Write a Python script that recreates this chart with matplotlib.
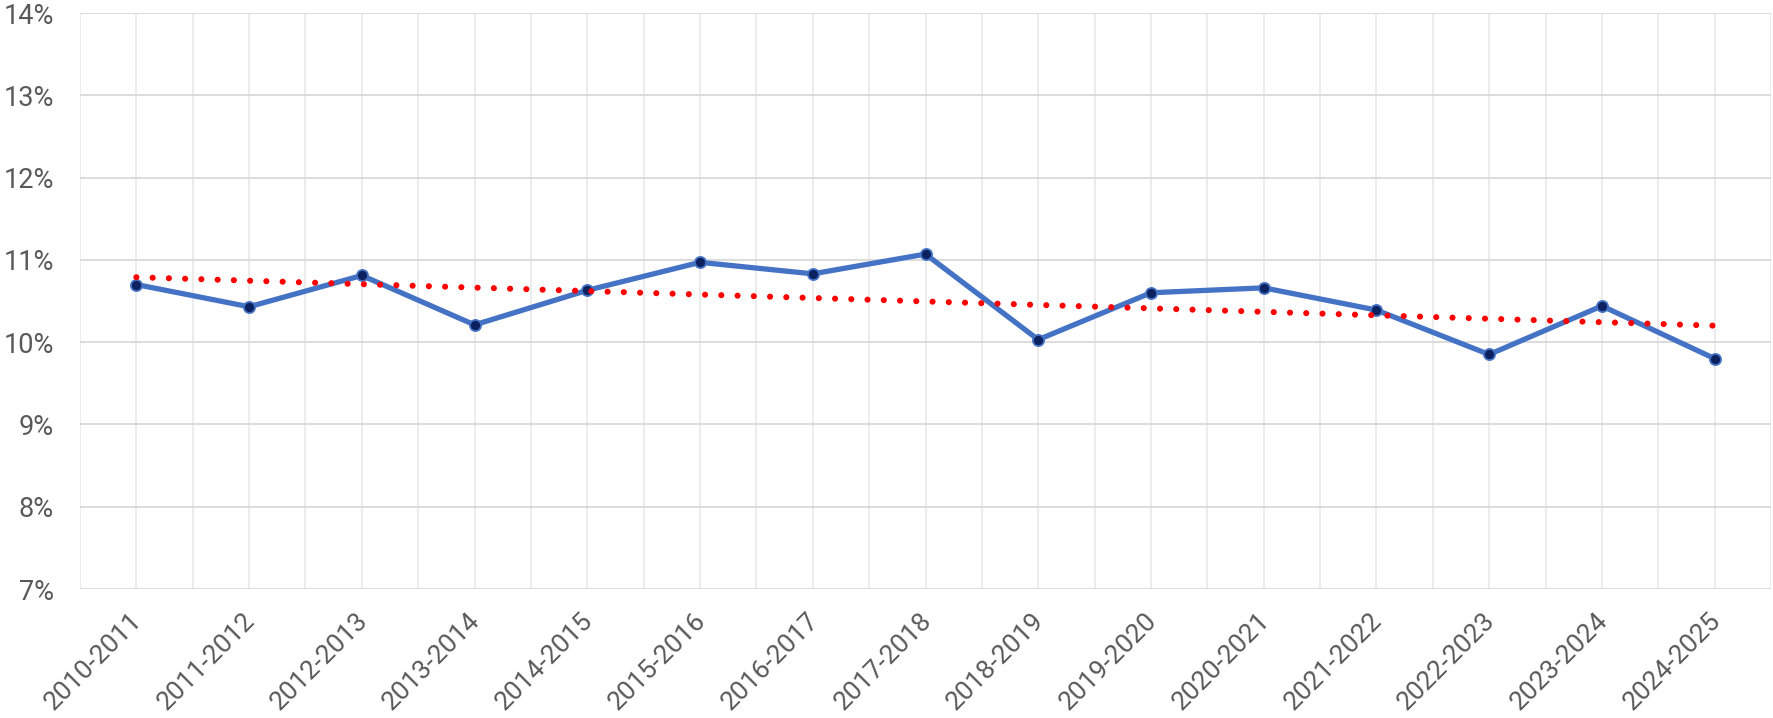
import numpy as np
import matplotlib
matplotlib.use("Agg")
import matplotlib.pyplot as plt
from matplotlib.ticker import FuncFormatter
import matplotlib.transforms as mtransforms

categories = ["2010-2011", "2011-2012", "2012-2013", "2013-2014", "2014-2015",
              "2015-2016", "2016-2017", "2017-2018", "2018-2019", "2019-2020",
              "2020-2021", "2021-2022", "2022-2023", "2023-2024", "2024-2025"]
values = [10.70, 10.43, 10.81, 10.21, 10.63, 10.97, 10.83, 11.07, 10.03, 10.60,
          10.66, 10.39, 9.85, 10.44, 9.80]
y_ticks = [7, 8, 9, 10, 11, 12, 13, 14]

plt.rcParams['font.family'] = ['Roboto', 'DejaVu Sans']

fig = plt.figure(figsize=(17.73, 7.18), dpi=100)
ax = fig.add_axes([80/1773, 129/718, (1771-80)/1773, (589-13)/718])

x = np.arange(len(categories))
ax.plot(x, values, color='#4472C4', lw=3.8, marker='o', ms=8,
        markerfacecolor='#0B2160', markeredgecolor='#4472C4', markeredgewidth=1.3,
        zorder=3, solid_joinstyle='round')

coef = np.polyfit(x, values, 1)
trend = np.polyval(coef, x)
ax.plot(x, trend, color='#FF0000', lw=4.4, linestyle=(0, (0.01, 2.65)),
        dash_capstyle='round', zorder=4)

ax.set_xlim(-0.5, len(categories) - 0.5)
ax.set_ylim(7, 14)
ax.set_yticks(y_ticks)
ax.yaxis.set_major_formatter(FuncFormatter(lambda v, p: f"{v:.0f}%"))
ax.set_xticks(x)
ax.set_xticks(np.arange(-0.5, len(categories), 1.0), minor=True)
ax.set_xticklabels(categories, rotation=45, ha='right', va='center',
                   rotation_mode='anchor')

for s in ax.spines.values():
    s.set_visible(False)

ax.grid(axis='y', color='#D9D9D9', lw=1.3, zorder=0)
ax.grid(axis='x', which='both', color='#EBEBEB', lw=1.3, zorder=0)
ax.tick_params(axis='both', which='both', length=0, labelsize=19, labelcolor='#595959')
ax.tick_params(axis='y', labelsize=19.5, pad=19)
ax.tick_params(axis='x', pad=20)
ax.set_axisbelow(True)

offset = mtransforms.ScaledTranslation(2/100, 0, fig.dpi_scale_trans)
for lab in ax.get_xticklabels():
    lab.set_transform(lab.get_transform() + offset)

fig.savefig("out.png", dpi=100)
